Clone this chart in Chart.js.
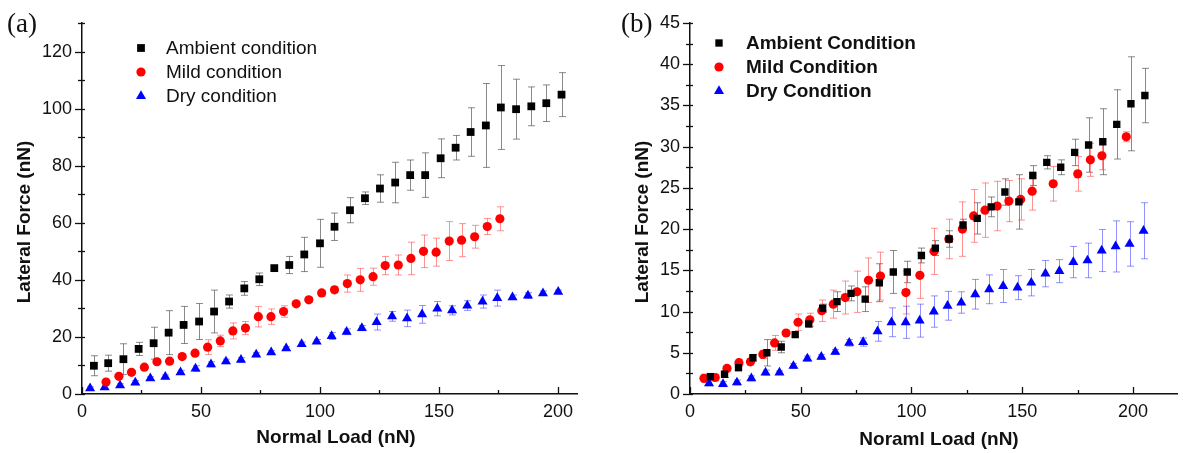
<!DOCTYPE html>
<html>
<head>
<meta charset="utf-8">
<script src="https://cdn.jsdelivr.net/npm/chart.js@4.4.1/dist/chart.umd.min.js"></script>
<style>
  html, body { margin: 0; padding: 0; background: #fff; }
  #wrapA { position: absolute; left: 0; top: 0; width: 600px; height: 453px; }
  #wrapB { position: absolute; left: 600px; top: 0; width: 583px; height: 453px; }
</style>
</head>
<body>
<div id="wrapA"><canvas id="chartA" width="600" height="453"></canvas></div>
<div id="wrapB"><canvas id="chartB" width="583" height="453"></canvas></div>
<script>
// ===== panel (a) =====
const ambientA_x = [5, 11, 17.4, 23.8, 30.1, 36.4, 42.7, 49.2, 55.5, 61.8, 68.2, 74.5, 80.8, 87.1, 93.4, 100, 106.1, 112.6, 118.9, 125.2, 131.6, 137.9, 144.2, 150.7, 157, 163.3, 169.7, 176, 182.4, 188.8, 195.1, 201.5];
const ambientA_y = [9.9, 10.8, 12.2, 15.8, 17.8, 21.5, 24.2, 25.4, 28.9, 32.4, 37.0, 40.2, 44.1, 45.2, 48.9, 52.8, 58.6, 64.4, 68.6, 72.0, 74.1, 76.7, 76.7, 82.6, 86.3, 91.8, 94.1, 100.4, 99.8, 100.8, 101.9, 104.9];
const ambientA_err = [3.5, 2.8, 5.4, 2.3, 5.6, 7.7, 6.5, 6.3, 7.5, 2.3, 2.4, 2.2, 1.0, 3.0, 6.0, 8.4, 4.8, 4.4, 2.2, 4.8, 7.1, 5.3, 7.8, 6.8, 4.3, 8.5, 14.7, 14.7, 10.5, 6.8, 6.4, 7.7];

const mildA_x = [10.1, 15.5, 20.8, 26.2, 31.5, 36.8, 42.1, 47.5, 52.8, 58.1, 63.4, 68.7, 74.1, 79.4, 84.7, 90, 95.3, 100.7, 106.1, 111.5, 116.9, 122.3, 127.4, 132.9, 138.2, 143.5, 148.8, 154.3, 159.5, 165, 170.3, 175.6];
const mildA_y = [4.2, 6.2, 7.6, 9.4, 11.3, 11.5, 13.1, 14.3, 16.4, 18.6, 22.1, 23.1, 27.1, 27.1, 28.9, 31.6, 33.0, 35.4, 36.5, 38.7, 40.0, 41.1, 45.0, 45.2, 47.5, 50.0, 49.7, 53.6, 53.9, 55.1, 58.7, 61.4];
const mildA_err = [0.5, 0.5, 0.5, 0.5, 0.6, 0.6, 0.6, 0.8, 2.6, 2.0, 2.8, 2.3, 3.6, 2.7, 2.0, 0.8, 0.8, 1.0, 1.0, 3.0, 4.0, 3.0, 3.2, 3.5, 5.7, 5.7, 4.9, 6.8, 5.8, 4.0, 2.8, 4.2];

const dryA_x = [3.4, 9.5, 16, 22.4, 28.7, 35, 41.4, 47.7, 54.2, 60.5, 66.8, 73.2, 79.5, 85.8, 92.3, 98.6, 104.9, 111.2, 117.6, 123.8, 130.3, 136.6, 142.9, 149.3, 155.5, 161.9, 168.3, 174.5, 180.9, 187.4, 193.7, 200.1];
const dryA_y = [2.0, 2.3, 3.0, 4.0, 5.5, 6.0, 7.6, 8.9, 10.4, 11.4, 12.0, 13.8, 14.6, 16.0, 17.5, 18.4, 20.3, 21.8, 23.1, 25.2, 27.2, 26.5, 27.9, 29.9, 29.3, 31.0, 32.4, 33.6, 33.9, 34.5, 35.3, 35.8];
const dryA_err = [0.5, 0.6, 0.6, 0.7, 0.6, 0.7, 0.7, 1.0, 0.9, 0.8, 0.8, 0.7, 0.6, 0.6, 0.7, 0.7, 1.2, 1.0, 0.9, 2.8, 1.7, 2.9, 3.1, 2.5, 1.6, 1.7, 2.3, 2.8, 0.8, 1.0, 0.8, 0.6];

const labelsA = ["Ambient condition", "Mild condition", "Dry condition"];
const xTicksA = [0, 50, 100, 150, 200];
const yTicksA = [0, 20, 40, 60, 80, 100, 120];

// ===== panel (b) =====
const ambientB_x = [9.2, 15.6, 21.9, 28.4, 34.7, 41.2, 47.5, 53.6, 59.9, 66.4, 72.7, 79.1, 85.5, 91.8, 98.1, 104.5, 110.8, 117, 123.3, 129.7, 136, 142.2, 148.5, 154.8, 161.1, 167.4, 173.7, 180, 186.4, 192.7, 199.1, 205.4];
const ambientB_y = [2.1, 2.4, 3.2, 4.4, 5.0, 5.7, 7.2, 8.5, 10.4, 11.2, 12.2, 11.5, 13.5, 14.8, 14.8, 16.8, 17.7, 18.8, 20.5, 21.3, 22.7, 24.5, 23.3, 26.5, 28.1, 27.5, 29.3, 30.2, 30.6, 32.7, 35.2, 36.2];
const ambientB_err = [0.4, 0.4, 0.4, 0.4, 1.6, 0.7, 0.3, 0.4, 0.5, 1.2, 0.9, 1.5, 2.3, 2.6, 1.3, 0.9, 0.9, 1.0, 0.7, 1.9, 1.2, 1.6, 3.3, 1.2, 0.8, 0.9, 1.6, 3.3, 4.0, 4.2, 5.7, 3.3];

const mildB_x = [6.3, 11.4, 16.7, 22.1, 27.3, 32.9, 38.2, 43.4, 48.8, 54.1, 59.5, 64.7, 70.1, 75.4, 80.6, 86.0, 97.5, 103.8, 110.2, 116.9, 123.0, 128.1, 133.2, 138.7, 144.0, 149.3, 154.5, 164.0, 175.1, 180.8, 186.0, 197.0];
const mildB_y = [1.9, 2.0, 3.1, 3.8, 3.9, 4.8, 6.2, 7.4, 8.7, 9.0, 10.1, 10.9, 11.7, 12.4, 13.8, 14.3, 12.3, 14.4, 17.3, 18.8, 20.0, 21.6, 22.3, 22.8, 23.4, 23.6, 24.6, 25.5, 26.7, 28.4, 28.9, 31.2];
const mildB_err = [0.5, 0.4, 0.3, 0.4, 0.4, 0.5, 0.9, 0.3, 1.0, 0.8, 1.3, 1.7, 2.0, 2.5, 2.7, 2.9, 2.6, 2.8, 2.8, 2.4, 3.3, 3.2, 3.3, 3.0, 2.5, 2.5, 2.3, 2.1, 2.1, 2.0, 1.7, 0.6];

const dryB_x = [8.6, 14.9, 21.2, 27.7, 34.1, 40.4, 46.7, 53.0, 59.3, 65.6, 71.9, 78.2, 84.7, 91.0, 97.4, 103.7, 110.1, 116.3, 122.5, 128.8, 135.1, 141.4, 147.9, 154.1, 160.5, 166.8, 173.1, 179.5, 185.9, 192.2, 198.5, 204.8];
const dryB_y = [1.3, 1.2, 1.4, 1.9, 2.6, 2.6, 3.4, 4.3, 4.5, 5.1, 6.2, 6.3, 7.6, 8.7, 8.7, 8.9, 10.0, 10.7, 11.1, 12.1, 12.7, 13.1, 12.9, 13.5, 14.6, 14.9, 16.0, 16.2, 17.4, 17.9, 18.2, 19.8];
const dryB_err = [0.3, 0.3, 0.3, 0.3, 0.3, 0.2, 0.3, 0.3, 0.3, 0.3, 0.4, 0.5, 1.2, 1.75, 1.95, 2.0, 1.9, 1.75, 1.3, 1.8, 1.75, 2.0, 1.45, 1.6, 1.6, 1.4, 1.9, 2.1, 2.55, 3.1, 2.7, 3.4];

const labelsB = ["Ambient Condition", "Mild Condition", "Dry Condition"];
const xTicksB = [0, 50, 100, 150, 200];
const yTicksB = [0, 5, 10, 15, 20, 25, 30, 35, 40, 45];

const SANS = "'Liberation Sans', Arial, sans-serif";

function points(xs, ys, es) {
  return xs.map((x, i) => ({ x: x, y: ys[i], e: es[i] }));
}

function series(label, xs, ys, es, color, errColor, style, radius) {
  return {
    label: label,
    data: points(xs, ys, es),
    pointStyle: style,
    pointRadius: radius,
    pointBackgroundColor: color,
    pointBorderColor: color,
    pointBorderWidth: 0,
    errorColor: errColor,
    showLine: false,
  };
}

// error bars drawn under the markers
const errorBars = {
  id: "errorBars",
  beforeDatasetsDraw(chart) {
    const { ctx } = chart;
    const x = chart.scales.x, y = chart.scales.y;
    ctx.save();
    ctx.lineWidth = 1;
    chart.data.datasets.forEach((ds) => {
      ctx.strokeStyle = ds.errorColor;
      ds.data.forEach((p) => {
        if (!p.e) return;
        const px = Math.round(x.getPixelForValue(p.x)) + 0.5;
        const top = y.getPixelForValue(p.y + p.e);
        const bot = y.getPixelForValue(p.y - p.e);
        ctx.beginPath();
        ctx.moveTo(px, top); ctx.lineTo(px, bot);
        ctx.moveTo(px - 3.5, top); ctx.lineTo(px + 3.5, top);
        ctx.moveTo(px - 3.5, bot); ctx.lineTo(px + 3.5, bot);
        ctx.stroke();
      });
    });
    ctx.restore();
  },
};

// tick marks, axis titles, legend and panel letter
const decor = {
  id: "decor",
  afterDraw(chart, args, o) {
    const { ctx } = chart;
    const x = chart.scales.x, y = chart.scales.y;
    const area = chart.chartArea;
    ctx.save();
    ctx.strokeStyle = "#111";
    ctx.lineWidth = 1.3;
    // x ticks point up into the plot
    for (let v = x.min; v <= x.max + 1e-6; v += o.xMinor) {
      const px = Math.round(x.getPixelForValue(v)) + 0.5;
      const major = Math.abs(v % o.xMajor) < 1e-6;
      ctx.beginPath();
      ctx.moveTo(px, area.bottom);
      ctx.lineTo(px, area.bottom - (major ? 7 : 4));
      ctx.stroke();
    }
    for (let v = y.min; v <= y.max + 1e-6; v += o.yMinor) {
      const py = Math.round(y.getPixelForValue(v)) + 0.5;
      const major = Math.abs(v % o.yMajor) < 1e-6;
      ctx.beginPath();
      ctx.moveTo(area.left - (major ? 7 : 4), py);
      ctx.lineTo(area.left + 3, py);
      ctx.stroke();
    }

    // axis titles
    ctx.fillStyle = "#111";
    ctx.font = "bold 19px " + SANS;
    ctx.textAlign = "center";
    ctx.textBaseline = "middle";
    ctx.fillText(o.xTitle, o.xTitlePos[0], o.xTitlePos[1]);
    ctx.save();
    ctx.translate(o.yTitlePos[0], o.yTitlePos[1]);
    ctx.rotate(-Math.PI / 2);
    ctx.fillText(o.yTitle, 0, 0);
    ctx.restore();

    // panel letter
    ctx.font = "27px 'Liberation Serif', 'Times New Roman', serif";
    ctx.textAlign = "left";
    ctx.fillText(o.panel, o.panelPos[0], o.panelPos[1]);

    // legend
    ctx.font = o.legendFont;
    chart.data.datasets.forEach((ds, i) => {
      const ly = o.legend.y + i * o.legend.dy;
      ctx.fillStyle = ds.pointBackgroundColor;
      const style = { pointStyle: ds.pointStyle, radius: ds.pointRadius, rotation: 0, borderWidth: 0 };
      if (Chart.helpers && Chart.helpers.drawPoint) {
        ctx.strokeStyle = ds.pointBackgroundColor;
        Chart.helpers.drawPoint(ctx, style, o.legend.x, ly);
      }
      ctx.fillStyle = "#111";
      ctx.fillText(ds.label, o.legend.textX, ly + 1);
    });
    ctx.restore();
  },
};

function makeOptions(xMax, yMax, xTicks, yTicks, padRight, decorOpts) {
  return {
    responsive: false,
    animation: false,
    events: [],
    layout: { padding: { left: 0, top: 23, right: padRight, bottom: 0 } },
    scales: {
      x: {
        type: "linear",
        min: 0,
        max: xMax,
        afterBuildTicks: (s) => { s.ticks = xTicks.map((v) => ({ value: v })); },
        afterFit: (s) => { s.height = 59; },
        grid: { display: false, drawTicks: false },
        border: { display: true, color: "#111", width: 1.5 },
        ticks: { padding: 7, color: "#111", font: { family: SANS, size: 18 }, autoSkip: false, maxRotation: 0 },
      },
      y: {
        type: "linear",
        min: 0,
        max: yMax,
        afterBuildTicks: (s) => { s.ticks = yTicks.map((v) => ({ value: v })); },
        afterFit: (s) => { s.width = decorOpts.yWidth; },
        grid: { display: false, drawTicks: false },
        border: { display: true, color: "#111", width: 1.5 },
        ticks: { padding: 10, color: "#111", font: { family: SANS, size: 18 }, autoSkip: false },
      },
    },
    plugins: {
      legend: { display: false },
      tooltip: { enabled: false },
      decor: decorOpts,
    },
  };
}

const chartA = new Chart(document.getElementById("chartA").getContext("2d"), {
  type: "scatter",
  data: {
    datasets: [
      series(labelsA[0], ambientA_x, ambientA_y, ambientA_err, "#000000", "rgba(60,60,60,0.6)", "rect", 5.5),
      series(labelsA[1], mildA_x, mildA_y, mildA_err, "#ff0000", "rgba(255,40,40,0.5)", "circle", 4.6),
      series(labelsA[2], dryA_x, dryA_y, dryA_err, "#0000ff", "rgba(40,40,255,0.5)", "triangle", 5.8),
    ],
  },
  options: makeOptions(208, 130, xTicksA, yTicksA, 23, {
    yWidth: 82,
    xMinor: 25, xMajor: 50, yMinor: 10, yMajor: 20,
    xTitle: "Normal Load (nN)", xTitlePos: [336, 438],
    yTitle: "Lateral Force (nN)", yTitlePos: [25, 222],
    panel: "(a)", panelPos: [7, 25],
    legend: { x: 141, y: 48, dy: 24, textX: 166 },
    legendFont: "19px " + SANS,
  }),
  plugins: [errorBars, decor],
});

const chartB = new Chart(document.getElementById("chartB").getContext("2d"), {
  type: "scatter",
  data: {
    datasets: [
      series(labelsB[0], ambientB_x, ambientB_y, ambientB_err, "#000000", "rgba(60,60,60,0.6)", "rect", 5.2),
      series(labelsB[1], mildB_x, mildB_y, mildB_err, "#ff0000", "rgba(255,40,40,0.5)", "circle", 4.6),
      series(labelsB[2], dryB_x, dryB_y, dryB_err, "#0000ff", "rgba(40,40,255,0.5)", "triangle", 5.8),
    ],
  },
  options: makeOptions(220, 45, xTicksB, yTicksB, 4, {
    yWidth: 90,
    xMinor: 25, xMajor: 50, yMinor: 2.5, yMajor: 5,
    xTitle: "Noraml Load (nN)", xTitlePos: [339, 440],
    yTitle: "Lateral Force (nN)", yTitlePos: [43, 222],
    panel: "(b)", panelPos: [21, 25],
    legend: { x: 119, y: 43, dy: 24, textX: 146 },
    legendFont: "bold 19px " + SANS,
  }),
  plugins: [errorBars, decor],
});
</script>
</body>
</html>
